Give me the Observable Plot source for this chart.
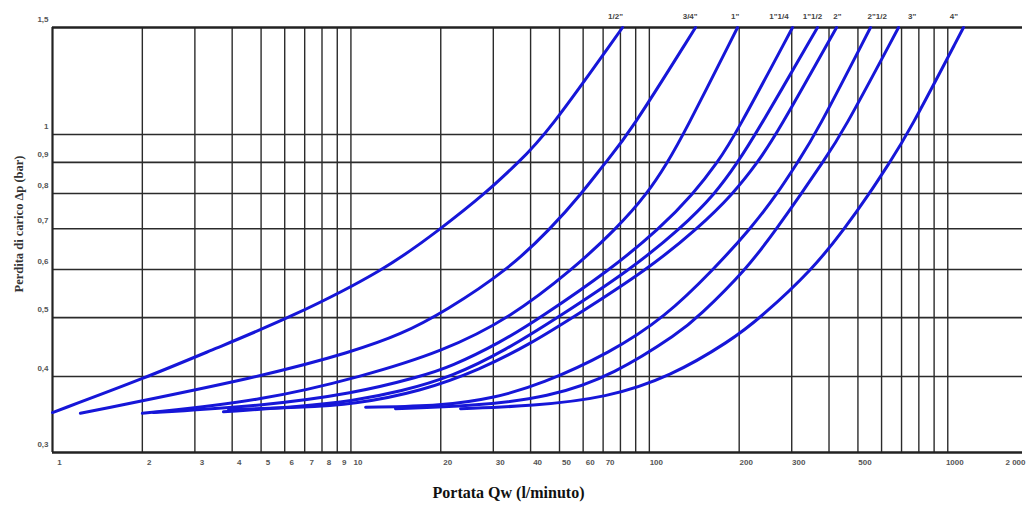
<!DOCTYPE html>
<html>
<head>
<meta charset="utf-8">
<script src="https://cdn.jsdelivr.net/npm/d3@7"></script>
<script src="https://cdn.jsdelivr.net/npm/@observablehq/plot@0.6"></script>
<style>
  html, body { margin: 0; padding: 0; background: #fff; }
</style>
</head>
<body>
<div id="chart"></div>
<script>
// ---- axes / grid ----
const xMin = 1;
const xMax = 1780;
const yMin = 0.3;
const yMax = 1.5;
const xGrid = [2, 3, 4, 5, 6, 7, 8, 9, 10, 20, 30, 40, 50, 60, 70, 80, 90, 100, 200, 300, 400, 500, 600, 700, 800, 900, 1000];
const xTickValues = [1, 2, 3, 4, 5, 6, 7, 8, 9, 10, 20, 30, 40, 50, 60, 70, 100, 200, 300, 500, 1000];
const xTickText = ["1", "2", "3", "4", "5", "6", "7", "8", "9", "10", "20", "30", "40", "50", "60", "70", "100", "200", "300", "500", "1000"];
const xEndText = "2 000";
const yGrid = [0.4, 0.5, 0.6, 0.7, 0.8, 0.9, 1];
const yTickValues = [0.3, 0.4, 0.5, 0.6, 0.7, 0.8, 0.9, 1, 1.5];
const yTickText = ["0,3", "0,4", "0,5", "0,6", "0,7", "0,8", "0,9", "1", "1,5"];
const xTitle = "Portata Qw (l/minuto)";
const yTitle = "Perdita di carico Δp (bar)";

// ---- series (portata l/min, perdita di carico bar) ----
const sizes = ['1/2"', '3/4"', '1"', '1"1/4', '1"1/2', '2"', '2"1/2', '3"', '4"'];
const labelQ = [77, 137, 194, 272, 352, 427, 580, 760, 1048];

const q_12 = [1, 2.05, 3.52, 6.27, 13.1, 20.0, 28.2, 36.4, 45.2, 81.3];
const dp_12 = [0.349, 0.398, 0.445, 0.50, 0.60, 0.70, 0.80, 0.90, 1.00, 1.5];
const q_34 = [1.24, 5.06, 10.2, 14.7, 20.7, 33.7, 46.7, 59.3, 71.3, 85.2, 142.8];
const dp_34 = [0.348, 0.40, 0.44, 0.469, 0.512, 0.60, 0.70, 0.80, 0.90, 1.00, 1.5];
const q_1 = [2.0, 5.06, 10.9, 20.4, 34.3, 55.3, 77.6, 98.6, 115, 130.2, 197.5];
const dp_1 = [0.348, 0.365, 0.40, 0.44, 0.50, 0.60, 0.70, 0.80, 0.90, 1.00, 1.5];
const q_114 = [2.18, 5.06, 10.2, 17.1, 21.6, 31.7, 43.2, 74.1, 108.2, 140.7, 169.3, 194.5, 301.9];
const dp_114 = [0.349, 0.358, 0.375, 0.40, 0.415, 0.455, 0.50, 0.60, 0.70, 0.80, 0.90, 1.00, 1.5];
const q_112 = [3.74, 6.78, 10.2, 14.7, 21.9, 33.0, 49.3, 86.5, 127.2, 166.7, 197.5, 227, 366];
const dp_112 = [0.350, 0.357, 0.365, 0.378, 0.40, 0.442, 0.50, 0.60, 0.70, 0.80, 0.90, 1.00, 1.5];
const q_2 = [3.89, 6.78, 10.2, 17.1, 27.2, 40.0, 55.3, 98.6, 145.1, 191.5, 230.5, 266.9, 424];
const dp_2 = [0.353, 0.356, 0.360, 0.378, 0.411, 0.453, 0.50, 0.60, 0.70, 0.80, 0.90, 1.00, 1.5];
const q_212 = [11.2, 20.3, 30.3, 43.2, 74.1, 112.4, 164.1, 218.3, 268.9, 313.7, 360.5, 551];
const dp_212 = [0.356, 0.358, 0.369, 0.388, 0.438, 0.50, 0.60, 0.70, 0.80, 0.90, 1.00, 1.5];
const q_3 = [14.1, 25.6, 45.9, 76.4, 127.2, 145, 211.7, 266.9, 323.6, 380.5, 440.7, 684];
const dp_3 = [0.354, 0.358, 0.369, 0.403, 0.474, 0.50, 0.60, 0.70, 0.80, 0.90, 1.00, 1.5];
const q_4 = [23.3, 40.9, 71.9, 117.8, 187.2, 235.9, 352.3, 451, 546.9, 638.3, 733.4, 1129];
const dp_4 = [0.354, 0.358, 0.369, 0.40, 0.458, 0.50, 0.60, 0.70, 0.80, 0.90, 1.00, 1.5];

const seriesQ = [q_12, q_34, q_1, q_114, q_112, q_2, q_212, q_3, q_4];
const seriesDp = [dp_12, dp_34, dp_1, dp_114, dp_112, dp_2, dp_212, dp_3, dp_4];

const rows = [];
sizes.forEach((s, i) => seriesQ[i].forEach((q, j) => rows.push({size: s, q, dp: seriesDp[i][j]})));
const xTicks = xTickValues.map((v, i) => ({v, t: xTickText[i]}));
const yTicks = yTickValues.map((v, i) => ({v, t: yTickText[i]}));
const curveLabels = sizes.map((s, i) => ({s, q: labelQ[i]}));

const gridColor = "#2b2b2b";
const tickFont = "Liberation Sans, Arial, sans-serif";
const serif = "Liberation Serif, Times New Roman, serif";

const chart = Plot.plot({
  width: 1028,
  height: 519,
  marginLeft: 52,
  marginRight: 6,
  marginTop: 27,
  marginBottom: 67,
  style: {background: "#fff", fontFamily: tickFont},
  x: {type: "log", domain: [xMin, xMax], axis: null},
  y: {type: "log", domain: [yMin, yMax], axis: null},
  marks: [
    Plot.ruleX(xGrid, {stroke: gridColor, strokeWidth: 1.4}),
    Plot.ruleY(yGrid, {stroke: gridColor, strokeWidth: 1.6}),
    Plot.ruleY([yMin], {stroke: "#222", strokeWidth: 2.6}),
    Plot.ruleY([yMax], {stroke: "#222", strokeWidth: 2.6}),
    Plot.ruleX([xMin], {stroke: "#222", strokeWidth: 2.2}),
    Plot.line(rows, {x: "q", y: "dp", z: "size", stroke: "#1616d8", strokeWidth: 3, curve: "basis"}),
    Plot.text(xTicks, {x: "v", y: () => yMin, text: "t", dy: 10, dx: 7, fontSize: 8, fontWeight: "bold", fill: "#555"}),
    Plot.text([xEndText], {x: () => xMax, y: () => yMin, text: d => d, dy: 10, dx: -7, fontSize: 8, fontWeight: "bold", fill: "#555"}),
    Plot.text(yTicks, {x: () => xMin, y: "v", text: "t", dx: -4, dy: -8, textAnchor: "end", fontSize: 8, fontWeight: "bold", fill: "#555"}),
    Plot.text(curveLabels, {x: "q", y: () => yMax, text: "s", dy: -11, fontSize: 8, fontWeight: "bold", fill: "#444"}),
    Plot.text([xTitle], {frameAnchor: "bottom", dy: 45, dx: -29, fontSize: 16, fontWeight: "bold", fontFamily: serif, fill: "#111"}),
    Plot.text([yTitle], {frameAnchor: "left", textAnchor: "middle", rotate: -90, dx: -34, dy: -16, fontSize: 12.5, fontWeight: "bold", fontFamily: serif, fill: "#333"})
  ]
});
document.getElementById("chart").append(chart);
</script>
</body>
</html>
